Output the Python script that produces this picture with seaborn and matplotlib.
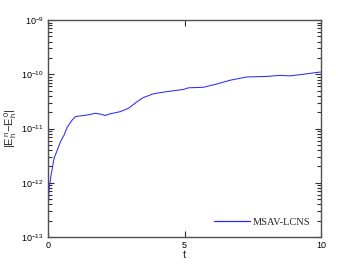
import numpy as np
import pandas as pd
import matplotlib
matplotlib.use('Agg')
import matplotlib.pyplot as plt
from matplotlib.ticker import LogLocator, NullFormatter, NullLocator
import seaborn as sns

# values (log10 of the energy error)
t_vals = [0.0, 0.01, 0.04, 0.1, 0.16, 0.22, 0.34, 0.46, 0.59, 0.71, 0.89, 1.01, 1.44,
          1.74, 1.97, 2.09, 2.27, 2.64, 2.94, 3.25, 3.49, 3.86, 4.35, 4.96, 5.14,
          5.69, 6.18, 6.67, 7.28, 8.02, 8.5, 8.86, 9.35, 9.96, 10.0]
log_err = [-12.87, -12.44, -12.13, -11.89, -11.73, -11.55, -11.40, -11.24, -11.12, -10.97,
           -10.84, -10.78, -10.75, -10.72, -10.74, -10.76, -10.73, -10.69, -10.63, -10.51,
           -10.43, -10.36, -10.32, -10.28, -10.25, -10.24, -10.18, -10.11, -10.05, -10.04,
           -10.02, -10.03, -10.00, -9.96, -9.96]
series_name = 'MSAV-LCNS'

df = pd.DataFrame({'t': t_vals, 'err': 10.0 ** np.array(log_err), 'method': series_name})

sns.set_style('ticks', {
    'xtick.direction': 'in', 'ytick.direction': 'in',
    'xtick.top': True, 'ytick.right': True,
    'axes.edgecolor': '#505050', 'xtick.color': '#303030', 'ytick.color': '#303030',
})
plt.rcParams.update({
    'xtick.major.size': 4, 'ytick.major.size': 4,
    'xtick.minor.size': 2.8, 'ytick.minor.size': 2.8,
    'xtick.major.width': 0.8, 'ytick.major.width': 0.8,
    'ytick.minor.width': 0.8,
    'xtick.labelcolor': 'black', 'ytick.labelcolor': 'black',
})
plt.rcParams['font.family'] = ['Liberation Sans', 'DejaVu Sans']
plt.rcParams['mathtext.fontset'] = 'custom'
plt.rcParams['mathtext.rm'] = 'Liberation Sans'
plt.rcParams['mathtext.it'] = 'Liberation Sans'

fig = plt.figure(figsize=(3.54, 2.67), dpi=100)
ax = fig.add_axes([0.1356, 0.1124, 0.7712, 0.8126])

sns.lineplot(data=df, x='t', y='err', hue='method', palette=['#2b2bff'],
             linewidth=0.75, ax=ax)

ax.set_yscale('log')
ax.set_xlim(0, 10)
ax.set_ylim(1e-13, 1e-9)
ax.set_xticks([0, 5, 10])
ax.set_xticklabels(['0', '5', '10'])
ax.minorticks_on()
ax.xaxis.set_minor_locator(NullLocator())
ax.yaxis.set_minor_locator(LogLocator(base=10, subs=(2, 3, 4, 5, 6, 7, 8, 9), numticks=40))
ax.yaxis.set_minor_formatter(NullFormatter())
ax.tick_params(axis='both', which='major', labelsize=6.5, pad=3)
ax.tick_params(axis='y', which='minor', length=2.8, width=0.8, left=True, right=True,
               direction='in', color='#303030')
for s in ax.spines.values():
    s.set_linewidth(1.0)

ax.set_xlabel('t', fontsize=8, labelpad=0)
ax.set_ylabel(r'$|E_h^n\!-\!E_h^0|$', fontsize=8)
ax.yaxis.set_label_coords(-0.105, 0.5)

leg = ax.legend(loc='lower right', frameon=False, handlelength=3.4, handletextpad=0.3,
                prop={'family': 'Liberation Serif', 'size': 7.5}, borderaxespad=0.6)
for h in leg.get_lines():
    h.set_color('#2b2bff')
    h.set_linewidth(0.9)

fig.savefig('out.png', dpi=100)
